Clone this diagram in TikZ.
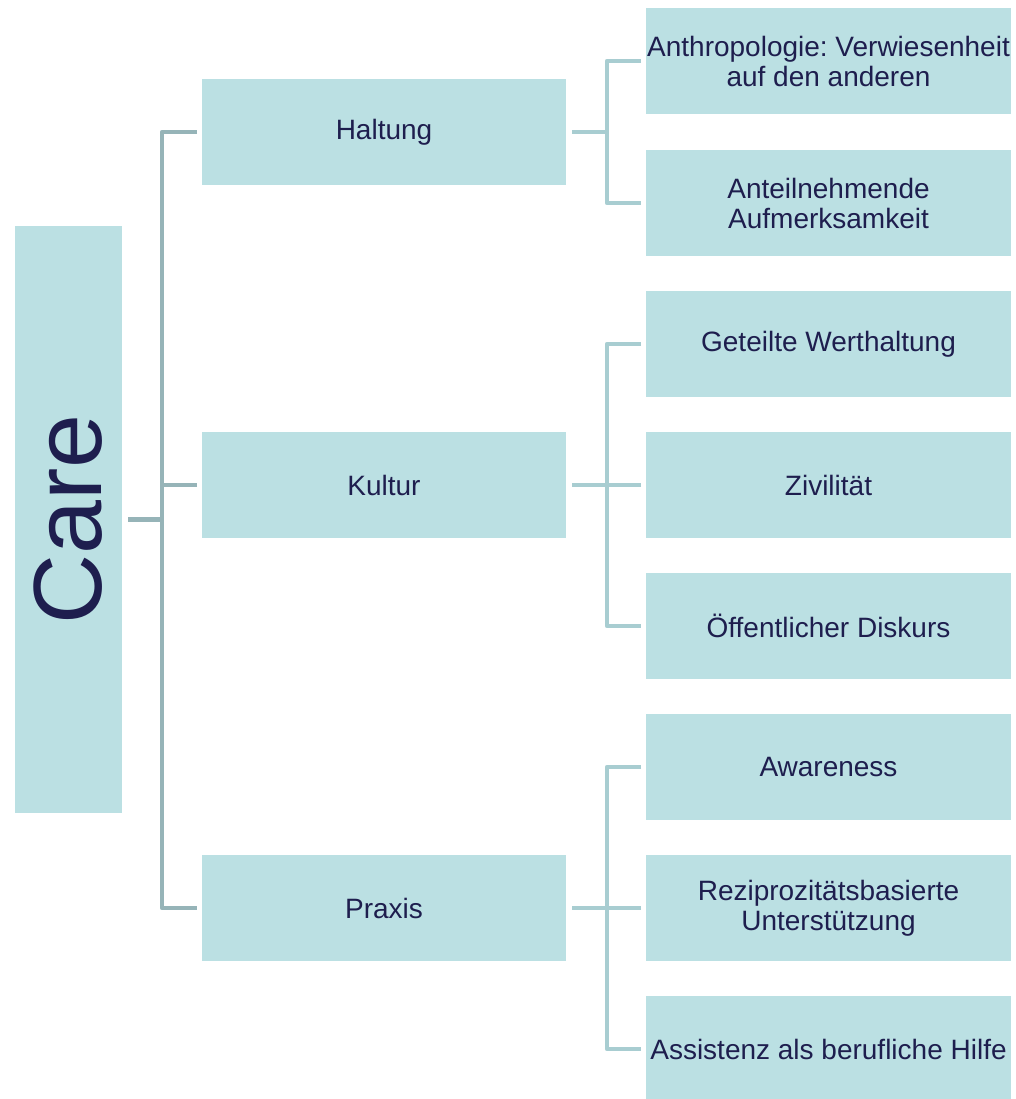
\documentclass[tikz,border=0pt]{standalone}
\usepackage{fontspec}
\setmainfont{Liberation Sans}
\usetikzlibrary{positioning}
\frenchspacing

\definecolor{boxfill}{HTML}{BBE0E3}
\definecolor{navy}{HTML}{1E1E4E}
\definecolor{trunkline}{HTML}{96B4B8}
\definecolor{leafline}{HTML}{A8CDD1}

\begin{document}
\begin{tikzpicture}[x=1pt, y=-1pt,
	root/.style={rectangle, fill=boxfill, minimum width=107pt, minimum height=587pt, inner sep=0pt, outer sep=0pt, text=navy},
	main/.style={rectangle, fill=boxfill, minimum width=364pt, minimum height=106pt, inner sep=0pt, outer sep=0pt, align=center, text=navy, font=\fontsize{28}{30}\selectfont},
	leaf/.style={main, minimum width=365pt},
	lconn/.style={draw=trunkline, line width=4.5pt, line join=round},
	rconn/.style={draw=leafline, line width=4.5pt, line join=round}
	]
	\useasboundingbox (0,0) rectangle (1016,1099);

		\node (care) [root] at (68.5,519.5) {\rotatebox{90}{\fontsize{97}{100}\selectfont Care}};

		\node (haltung) [main] at (384,132) {Haltung};
		\node (kultur) [main] at (384,485) {Kultur};
		\node (praxis) [main] at (384,908) {Praxis};

			\node (anthro) [leaf] at (828.5,61) {Anthropologie: Verwiesenheit\\auf den anderen};
			\node (anteil) [leaf, below=36pt of anthro] {Anteilnehmende\\Aufmerksamkeit};

			\node (werte) [leaf, below=35pt of anteil] {Geteilte Werthaltung};
			\node (zivil) [leaf, below=35pt of werte] {Zivilität};
			\node (diskurs) [leaf, below=35pt of zivil] {Öffentlicher Diskurs};

			\node (aware) [leaf, below=35pt of diskurs] {Awareness};
			\node (rezi) [leaf, below=35pt of aware] {Reziprozitätsbasierte\\Unterstützung};
			\node (assist) [leaf, below=35pt of rezi] {Assistenz als berufliche Hilfe};


	\draw [lconn] ([xshift=6pt]care.east)--++(34,0);
	\draw [lconn] ([xshift=-5pt]haltung.west)--++(-35,0) |- ([xshift=-5pt]praxis.west);
	\draw [lconn] ([xshift=-5pt]kultur.west)--++(-35,0);

	\draw [rconn] ([xshift=6pt]haltung.east)--++(35,0);
	\draw [rconn] ([xshift=-5pt]anthro.west)--++(-34,0) |- ([xshift=-5pt]anteil.west);

	\draw [rconn] ([xshift=6pt]kultur.east)--++(35,0);
	\draw [rconn] ([xshift=-5pt]werte.west)--++(-34,0) |- ([xshift=-5pt]diskurs.west);
	\draw [rconn] ([xshift=-5pt]zivil.west)--++(-34,0);

	\draw [rconn] ([xshift=6pt]praxis.east)--++(35,0);
	\draw [rconn] ([xshift=-5pt]aware.west)--++(-34,0) |- ([xshift=-5pt]assist.west);
	\draw [rconn] ([xshift=-5pt]rezi.west)--++(-34,0);

	\end{tikzpicture}
\end{document}
